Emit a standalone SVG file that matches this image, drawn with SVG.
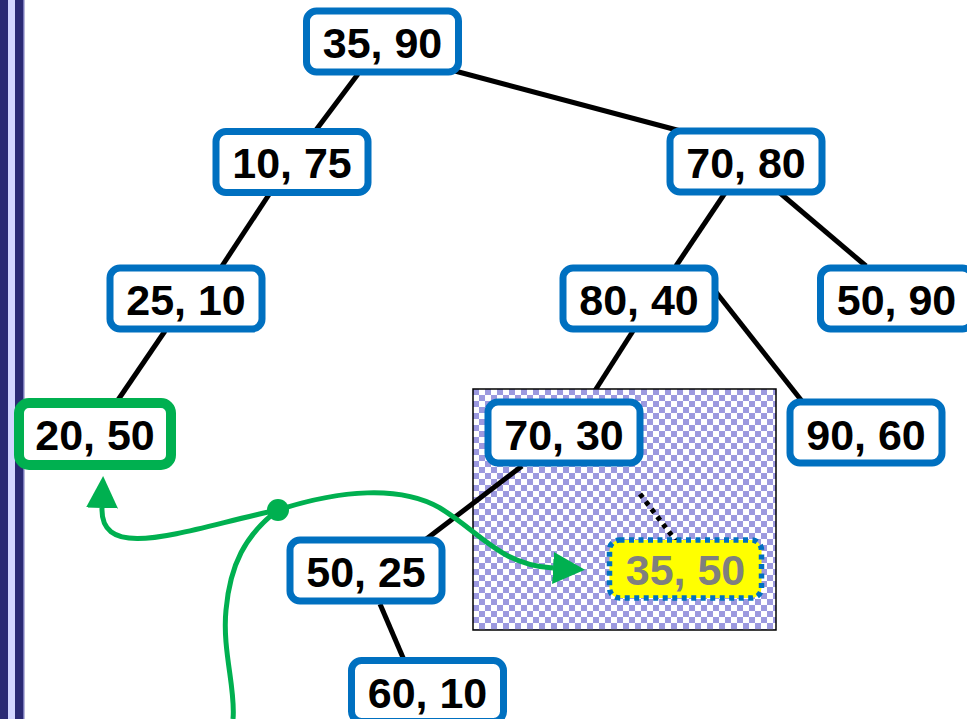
<svg xmlns="http://www.w3.org/2000/svg" width="967" height="719" viewBox="0 0 967 719">
<style>
.node rect{fill:#fff;stroke:#0070C0;stroke-width:7}
.node text{font-family:"Liberation Sans",Arial,sans-serif;font-weight:bold;font-size:43px;fill:#000;text-anchor:middle}
.edge{stroke:#000;stroke-width:5;fill:none}
.green{stroke:#00B050;stroke-width:5;fill:none}
</style>
<defs>
<pattern id="chk" x="473" y="389" width="12" height="12" patternUnits="userSpaceOnUse">
<rect width="12" height="12" fill="#fff"/>
<rect width="6" height="6" fill="#9C99DF"/>
<rect x="6" y="6" width="6" height="6" fill="#9C99DF"/>
</pattern>
<marker id="arr" markerUnits="userSpaceOnUse" markerWidth="32" markerHeight="32" refX="0" refY="15" orient="auto" viewBox="0 0 30 30">
<path d="M0,0 L30,15 L0,30 Z" fill="#00B050"/>
</marker>
</defs>
<rect width="967" height="719" fill="#fff"/>
<g id="border">
<rect x="0" y="0" width="8" height="719" fill="#2B2A74"/>
<rect x="8" y="0" width="7" height="719" fill="#D3D6FF"/>
<rect x="15" y="0" width="8" height="719" fill="#2B2A74"/>
<rect x="23" y="0" width="1.5" height="719" fill="#7777B8"/>
</g>
<g id="edge-hidden">
<line class="edge" x1="633" y1="331" x2="589" y2="400"/>
</g>
<g id="region">
<rect x="473" y="389" width="303" height="241" fill="url(#chk)" stroke="#000" stroke-width="1.5"/>
</g>
<g id="connectors">
<line class="edge" x1="358" y1="74" x2="316" y2="130"/>
<line class="edge" x1="455" y1="71" x2="692" y2="134"/>
<line class="edge" x1="270" y1="193" x2="222" y2="266"/>
<line class="edge" x1="725" y1="193" x2="676" y2="266"/>
<line class="edge" x1="780" y1="193" x2="866" y2="266"/>
<line class="edge" x1="165" y1="331" x2="118" y2="400"/>
<line class="edge" x1="712" y1="287" x2="805" y2="405"/>
<line class="edge" x1="522" y1="466" x2="425" y2="540"/>
<line class="edge" x1="380" y1="604" x2="404" y2="660"/>
<line x1="640" y1="494" x2="676" y2="541" stroke="#000" stroke-width="5" stroke-dasharray="4.5 5"/>
</g>
<g id="n3590" class="node"><rect x="306.5" y="11" width="152" height="61" rx="10"/><text x="382.5" y="58">35, 90</text></g>
<g id="n1075" class="node"><rect x="216" y="131.5" width="152" height="61" rx="10"/><text x="292" y="178">10, 75</text></g>
<g id="n7080" class="node"><rect x="670" y="131" width="152" height="61" rx="10"/><text x="746" y="177.5">70, 80</text></g>
<g id="n2510" class="node"><rect x="110" y="268" width="152" height="61" rx="10"/><text x="186" y="314.5">25, 10</text></g>
<g id="n8040" class="node"><rect x="563" y="268" width="152" height="61" rx="10"/><text x="639" y="314.5">80, 40</text></g>
<g id="n5090" class="node"><rect x="820.5" y="268" width="152" height="61" rx="10"/><text x="896.5" y="314.5">50, 90</text></g>
<g id="n2050" class="node"><rect x="19" y="403" width="152" height="62" rx="10" style="stroke:#00B050;stroke-width:10"/><text x="95" y="450">20, 50</text></g>
<g id="n7030" class="node"><rect x="488" y="402" width="152" height="61" rx="10"/><text x="564" y="449.5">70, 30</text></g>
<g id="n9060" class="node"><rect x="790" y="402" width="152" height="61" rx="10"/><text x="866" y="449.5">90, 60</text></g>
<g id="n5025" class="node"><rect x="290" y="540" width="152" height="61" rx="10"/><text x="366" y="587">50, 25</text></g>
<g id="n6010" class="node"><rect x="351.5" y="660.5" width="152" height="61" rx="10"/><text x="427.5" y="707.5">60, 10</text></g>
<g id="n3550" class="node"><rect x="609.5" y="540" width="152" height="58" rx="10" style="fill:#FFFF00;stroke-width:5.5;stroke-dasharray:5 4.5"/><text x="685.5" y="584.5" style="fill:#7F7F7F">35, 50</text></g>
<g id="green-connectors">
<path class="green" d="M278,510 C190,528 100,565 102,508" marker-end="url(#arr)"/>
<path class="green" d="M278,510 C340,490 400,485 440,508 C480,532 500,565 553,568" marker-end="url(#arr)"/>
<path class="green" d="M233,719 C236,690 222,650 226,610 C230,565 245,535 278,510"/>
<circle cx="278" cy="510" r="11" fill="#00B050"/>
</g>
</svg>
